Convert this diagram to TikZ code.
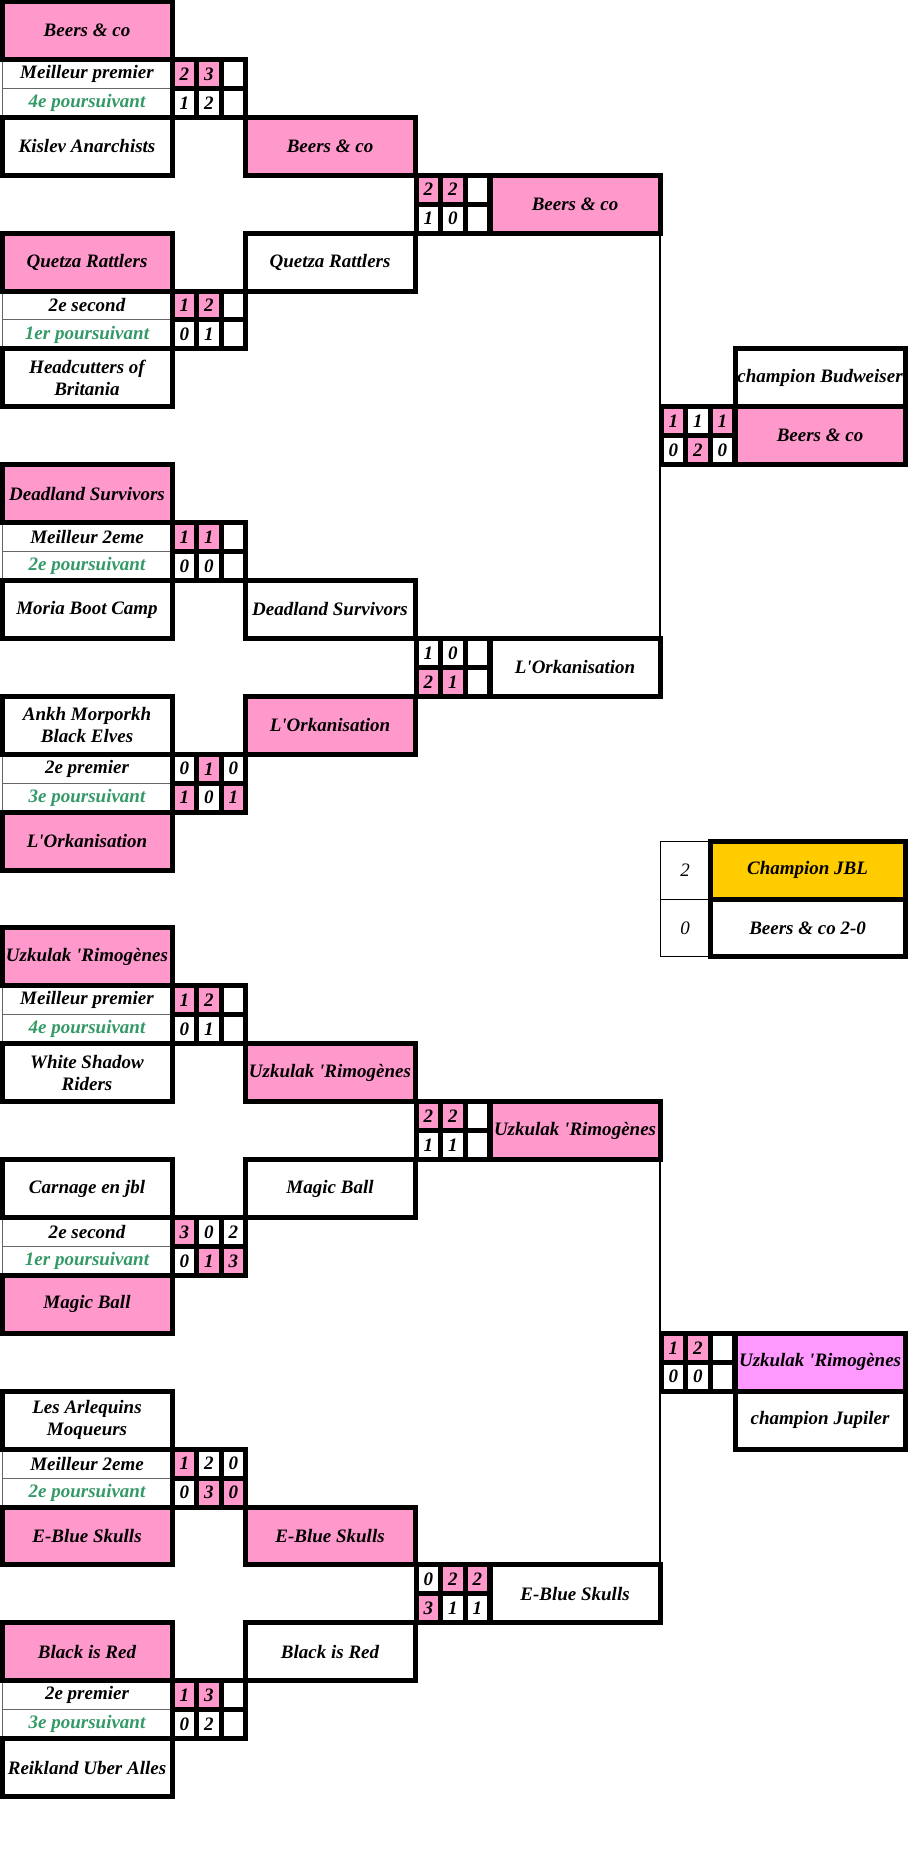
\documentclass[tikz,border=0pt]{standalone}
\usepackage{fontspec}
\setmainfont{Liberation Serif}
\definecolor{hong}{HTML}{FF99CC}
\definecolor{tim}{HTML}{FF99FF}
\definecolor{vang}{HTML}{FFCC00}
\definecolor{xanh}{HTML}{339966}
\begin{document}
\begin{tikzpicture}[x=0.5pt,y=-14.475pt,font=\fontsize{9.5}{11}\selectfont\bfseries\itshape,
		doi/.style={draw,line width=2.5pt,minimum width=85pt,minimum height=28.95pt,inner sep=0pt,outer sep=0pt,align=center},
		nhan/.style={draw=black!60,line width=0.5pt,minimum width=85pt,minimum height=14.475pt,inner sep=0pt,outer sep=0pt},
		diem/.style={draw,line width=2.5pt,minimum width=12.25pt,minimum height=14.475pt,inner sep=0pt,outer sep=0pt},
		noi/.style={line width=1pt}]
		
		\def\q{\textquotesingle}
		\path[use as bounding box,fill=white] (0,-0.0518) rectangle (912,64.02);
		\foreach \r/\ta/\tb [count=\i] in {2/Meilleur premier/4e poursuivant,10/2e second/1er poursuivant,18/Meilleur 2eme/2e poursuivant,26/2e premier/3e poursuivant,34/Meilleur premier/4e poursuivant,42/2e second/1er poursuivant,50/Meilleur 2eme/2e poursuivant,58/2e premier/3e poursuivant}
		{\node[nhan] (l\i) at (87,\r+.5) {\ta};
		\node[nhan,text=xanh] (m\i) at (87,\r+1.5) {\tb};} % Vẽ các dòng hạng
		\foreach \r/\t/\c [count=\i] in {0/Beers \& co/hong,4/Kislev Anarchists/white,8/Quetza Rattlers/hong,12/{Headcutters of\\Britania}/white,16/Deadland Survivors/hong,20/Moria Boot Camp/white,24/{Ankh Morporkh\\Black Elves}/white,28/L\q Orkanisation/hong,32/Uzkulak \q Rimogènes/hong,36/{White Shadow\\Riders}/white,40/Carnage en jbl/white,44/Magic Ball/hong,48/{Les Arlequins\\Moqueurs}/white,52/E-Blue Skulls/hong,56/Black is Red/hong,60/Reikland Uber Alles/white}
		\node[doi,fill=\c] (a\i) at (87,\r+1) {\t}; % Vòng 1
		\foreach \r/\t/\c [count=\i] in {4/Beers \& co/hong,8/Quetza Rattlers/white,20/Deadland Survivors/white,24/L\q Orkanisation/hong,36/Uzkulak \q Rimogènes/hong,40/Magic Ball/white,52/E-Blue Skulls/hong,56/Black is Red/white}
		\node[doi,fill=\c] (b\i) at (330,\r+1) {\t}; % Vòng 2
		\foreach \r/\t/\c [count=\i] in {6/Beers \& co/hong,22/L\q Orkanisation/white,38/Uzkulak \q Rimogènes/hong,54/E-Blue Skulls/white}
		\node[doi,fill=\c] (e\i) at (575,\r+1) {\t}; % Bán kết
		\foreach \r/\t/\c [count=\i] in {12/champion Budweiser/white,14/Beers \& co/hong,46/Uzkulak \q Rimogènes/tim,48/champion Jupiler/white}
		\node[doi,fill=\c] (g\i) at (820,\r+1) {\t}; % Chung kết
		\foreach \x/\r/\o [count=\j] in {172/2/{2/hong,3/hong,{}/white,1/white,2/white,{}/white},
			172/10/{1/hong,2/hong,{}/white,0/white,1/white,{}/white},
			416/6/{2/hong,2/hong,{}/white,1/white,0/white,{}/white},
			661/14/{1/hong,1/white,1/hong,0/white,2/hong,0/white},
			172/18/{1/hong,1/hong,{}/white,0/white,0/white,{}/white},
			172/26/{0/white,1/hong,0/white,1/hong,0/white,1/hong},
			416/22/{1/white,0/white,{}/white,2/hong,1/hong,{}/white},
			172/34/{1/hong,2/hong,{}/white,0/white,1/white,{}/white},
			172/42/{3/hong,0/white,2/white,0/white,1/hong,3/hong},
			416/38/{2/hong,2/hong,{}/white,1/white,1/white,{}/white},
			661/46/{1/hong,2/hong,{}/white,0/white,0/white,{}/white},
			172/50/{1/hong,2/white,0/white,0/white,3/hong,0/hong},
			172/58/{1/hong,3/hong,{}/white,0/white,2/white,{}/white},
			416/54/{0/white,2/hong,2/hong,3/hong,1/white,1/white}}
		\foreach \v/\c [count=\k from 0] in \o
		\node[diem,fill=\c] (s\j-\k) at ({\x+24.5*(mod(\k,3)+.5)},{\r+int(\k/3)+.5}) {\v}; % Ô tỉ số
		\node[draw,line width=0.5pt,minimum width=25pt,minimum height=28.95pt,inner sep=0pt,outer sep=0pt,font=\fontsize{9.5}{11}\selectfont\mdseries\itshape] (k1) at (685,30) {2};
		\node[draw,line width=0.5pt,minimum width=25pt,minimum height=28.95pt,inner sep=0pt,outer sep=0pt,font=\fontsize{9.5}{11}\selectfont\mdseries\itshape] (k2) at (685,32) {0};
		\node[doi,fill=vang,minimum width=97.5pt] (c1) at (807.5,30) {Champion JBL};
		\node[doi,minimum width=97.5pt] (c2) at (807.5,32) {Beers \& co 2-0};
		\draw[noi] (e1.south east) -- (e2.north east) (e3.south east) -- (e4.north east); % Đường nối
\end{tikzpicture}
\end{document}
